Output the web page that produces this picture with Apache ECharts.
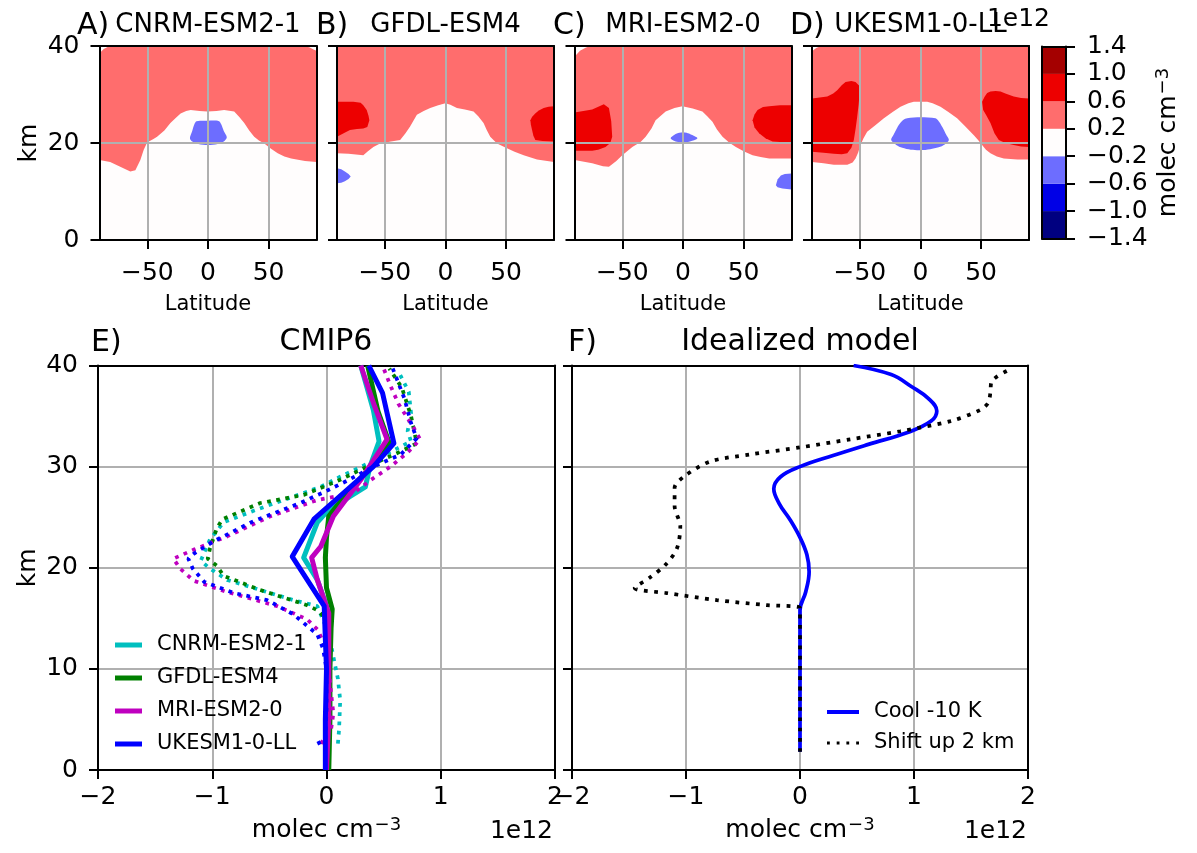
<!DOCTYPE html>
<html><head><meta charset="utf-8">
<script src="https://cdn.jsdelivr.net/npm/echarts@6/dist/echarts.min.js"></script>
<style>html,body{margin:0;padding:0;background:#fff}#c{width:1197px;height:853px}</style>
</head><body><div id="c"></div>
<script>
// ---------------- DATA ----------------
// colour-bar levels (x1e12 molec cm^-3) and fill colours of each band
const cbBounds = [-1.4, -1.0, -0.6, -0.2, 0.2, 0.6, 1.0, 1.4];
const cbColors = ['#000080', '#0000e6', '#6d6dff', '#fffdfd', '#ff6d6d', '#ed0000', '#a40000'];
const latTicks = [-50, 0, 50];
const panelNames = ['CNRM-ESM2-1', 'GFDL-ESM4', 'MRI-ESM2-0', 'UKESM1-0-LL'];
const panelLetters = ['A)', 'B)', 'C)', 'D)'];

// contour boundaries [latitude, altitude km]
// Panel A (CNRM-ESM2-1)
const aRedTop = [[-89.5,38.5],[-86,39.4],[-82,39.9],[-75,40],[79.6,40],[84,39.7],[87,39.3],[89.5,39]];
const aRedLower = [[-89.5,16.5],[-80.7,16.1],[-72.4,15.1],[-64.1,14.1],[-59.9,14.4],[-55.8,16.5],[-53,18.6],[-50.2,20.1],[-45,20.8],[-42,21.3],[-36,22.6],[-31,24.1],[-26,25.3],[-22.6,26.1],[-18,26.6],[-14.3,26.8],[-7,26.6],[-0.5,26.5],[7,26.6],[13.3,26.8],[21.6,26.5],[26,25.3],[29.9,24.1],[34,22.6],[38.1,21.3],[42,20.5],[46.4,19.9],[52,18.8],[57.5,17.9],[63,17.2],[68.6,16.8],[80,16.3],[89.5,16.1]];
const aBlue = [[-14.9,21],[-13,22.5],[-11,24],[-9.4,24.5],[0,24.6],[9.1,24.5],[11,23.8],[13,22.5],[15.5,21.2],[13,20.3],[8,19.8],[0,19.6],[-8,19.8],[-13,20.3]];
// Panel B (GFDL-ESM4)
const bRedTop = [[-89.5,40],[89.5,40]];
const bRedLower = [[-89.5,17.9],[-80,17.8],[-67.8,17.5],[-64,18.3],[-59.5,19.2],[-54,19.9],[-45,20.3],[-37.4,20.6],[-33,22],[-29.2,23.4],[-23.6,25.8],[-18,26.6],[-12.6,27.2],[-6,27.8],[0,28.2],[4,27.9],[9.4,27.2],[16,26.9],[23.1,26.5],[27,25.5],[31.4,24.1],[34,22.7],[36.9,21.3],[42.5,19.9],[50.7,18.9],[57,18.2],[64.5,17.5],[75.5,16.6],[89.5,16.1]];
const bDarkL = [[-89.5,28.5],[-76,28.5],[-70,28.3],[-67.8,27.8],[-65,26.8],[-63.5,25.6],[-62.8,24.7],[-64.5,23.3],[-67.8,23],[-73,22.9],[-78.8,22.7],[-84,22],[-89.5,21.3]];
const bDarkR = [[70,24.7],[71.5,25.4],[74,26.1],[77,26.7],[81,27.2],[85,27.5],[89.5,27.6],[89.5,20.3],[80,20.4],[74.1,20.6],[72.5,21.5],[71.4,22.7],[70.4,23.8]];
const bBlueL = [[-89.5,14.8],[-86,14.6],[-83,14.1],[-80,13.6],[-78.2,13.1],[-80,12.6],[-83,12.1],[-86,11.8],[-89.5,11.7]];
// Panel C (MRI-ESM2-0)
const cRedTop = [[-89.5,37.8],[-85,39],[-80,39.7],[-76,40],[89.5,40]];
const cRedLower = [[-89.5,16.5],[-74.9,15.8],[-66,15.2],[-61.1,15.1],[-55,16.3],[-50.1,17.5],[-41.8,19.2],[-35,20.2],[-30.8,21.3],[-26,23],[-22.6,24.7],[-14.3,26.5],[-7,27.2],[-0.5,27.6],[8,27.1],[16,26.5],[20,25.5],[24.3,24.4],[28,22.8],[32.6,21.3],[38,20.1],[43.6,19.2],[50,18.3],[57.4,17.5],[64,17.1],[71.1,16.8],[89.5,16.8]];
const cDarkL = [[-89.5,26.3],[-74.9,26.9],[-65.3,28],[-61.1,27.2],[-59.2,24.5],[-58.4,21.3],[-60,20],[-63.9,19.2],[-70,18.6],[-74.9,18.4],[-89.5,18.4]];
const cDarkR = [[57.4,24.7],[59,25.9],[61.5,26.8],[66,27.4],[71.1,27.6],[80,27.8],[89.5,27.8],[89.5,20.1],[80,20.2],[73.9,20.3],[68,21],[62.8,22],[59,23.2]];
const cBlueC = [[-10.2,21],[-7,21.7],[-3,22.1],[0,22.2],[3,22.1],[7,21.7],[11.9,21],[7,20.4],[3,20.15],[0,20.1],[-3,20.15],[-7,20.4]];
const cBlueR = [[89.5,13.7],[84,13.6],[80.7,13.3],[78,12.5],[76.6,11.3],[78,10.9],[82,10.6],[89.5,10.4]];
// Panel D (UKESM1-0-LL)
const dRedTop = [[-89.5,38.9],[-86,39.6],[-83,39.9],[-80,40],[89.5,40]];
const dRedLower = [[-89.5,16.1],[-80,15.8],[-71.5,15.5],[-60.4,15.5],[-56,16],[-53.6,16.8],[-51.5,18],[-49.5,19.6],[-47,21],[-44,22.3],[-37,23.7],[-30.2,25.1],[-23,26.4],[-16.5,27.5],[-10,28.2],[-5.5,28.5],[5.5,28.5],[10,28.2],[16.5,27.5],[23,26.4],[30.2,25.1],[37,23.4],[44,21.6],[47.5,20.6],[50.8,19.6],[54,18.6],[57.7,17.9],[63,17.2],[68.7,16.8],[80,16.6],[89.5,16.6]];
const dDarkL = [[-89.5,29.2],[-76.9,29.6],[-72,30.2],[-68.7,30.9],[-65,31.9],[-61.8,32.6],[-57,32.8],[-53.6,32.6],[-50.5,31.8],[-50,31],[-51,28],[-52.2,25.4],[-53.5,23],[-55,20.6],[-57,19],[-60.4,17.9],[-65,17.7],[-71.5,17.8],[-80,18],[-89.5,18.2]];
const dDarkR = [[50.8,28.5],[53,29.6],[55,30.3],[57.7,30.6],[62,30.7],[66,30.6],[70,30.2],[76.9,29.6],[83,29.3],[89.5,29.2],[89.5,19.2],[83,19.3],[76.9,19.6],[70,20],[64.6,20.6],[61,22],[57.7,24.1],[54,25.8],[51.7,26.8]];
const dBlue = [[-24.2,20.6],[-22,21.8],[-20,22.8],[-17,24],[-14,24.8],[-11,25.1],[0,25.3],[12.4,25.1],[15,24.5],[18,23.3],[21,21.8],[23.4,20.6],[20,19.7],[15,19.1],[8,18.7],[0,18.5],[-8,18.6],[-15,19],[-20,19.6]];

// Panel E profiles [value x1e12 molec cm^-3, altitude km]
const eModels = ['CNRM-ESM2-1', 'GFDL-ESM4', 'MRI-ESM2-0', 'UKESM1-0-LL'];
const cnrmSolid = [[0.01,0],[0.02,5],[0.02,10],[0.0,15],[0.0,16.2],[-0.08,18.8],[-0.2,21.0],[-0.08,24.5],[0.0,25.5],[0.2,27],[0.34,28],[0.38,30],[0.46,32.5],[0.41,35.6],[0.3,40]];
const gfdlSolid = [[0.02,0],[0.03,5],[0.03,10],[0.04,14],[0.05,15.9],[0.0,18],[-0.01,21],[0.0,23],[0.02,25.1],[0.18,27.4],[0.35,29.5],[0.55,32.3],[0.45,35.5],[0.36,40]];
const mriSolid = [[0.0,0],[0.02,5],[0.02,10],[0.02,15.5],[-0.08,18.8],[-0.13,21],[-0.05,22.1],[0.06,25.1],[0.3,28.7],[0.53,32.7],[0.42,36],[0.3,40]];
const ukSolid = [[-0.01,0],[-0.01,5],[0.0,10],[-0.01,12.9],[-0.02,16.2],[-0.3,21.1],[-0.11,24.8],[0.18,27.7],[0.41,30],[0.59,32.3],[0.49,37.3],[0.37,40]];
const cnrmDot = [[0.1,2.6],[0.11,4],[0.12,6.9],[0.1,9],[0.06,11.2],[0.02,13.5],[-0.08,16.2],[-0.29,16.8],[-0.58,17.8],[-0.87,18.8],[-1.03,20.0],[-1.10,20.7],[-1.02,22.8],[-0.9,24.5],[-0.6,25.8],[-0.3,27],[-0.05,28],[0.12,29],[0.36,30.3],[0.62,31.8],[0.74,32.5],[0.71,33.5],[0.74,35.3],[0.72,37.4],[0.63,39.4]];
const gfdlDot = [[0.02,2.6],[0.02,6.9],[0.01,11],[0.0,14.9],[-0.08,15.8],[-0.17,16.3],[-0.58,17.8],[-0.9,19.2],[-0.96,20.2],[-1.04,20.9],[-1.02,21.9],[-0.96,23.9],[-0.91,24.8],[-0.58,26.4],[-0.2,27.2],[0.12,28.7],[0.30,29.7],[0.65,31.5],[0.79,32.3],[0.74,35],[0.66,37.8],[0.55,39.7]];
const mriDot = [[-0.05,2.6],[0.04,4],[0.06,5.6],[0.04,7.6],[0.02,10],[0.0,12],[-0.08,13.9],[-0.17,14.9],[-0.43,16.2],[-0.87,17.6],[-1.16,18.7],[-1.28,19.9],[-1.34,20.9],[-1.16,21.8],[-0.87,23.1],[-0.49,25.1],[-0.08,26.7],[0.24,27.4],[0.39,28.7],[0.56,30],[0.71,31.4],[0.82,32.7],[0.76,33.9],[0.63,36.2],[0.56,38],[0.49,40]];
const ukDot = [[-0.08,2.6],[-0.01,3],[0.0,6],[0.0,10],[-0.03,12],[-0.08,13.4],[-0.29,15.4],[-0.52,16.8],[-0.81,17.5],[-1.07,18.6],[-1.17,19.9],[-1.21,20.9],[-1.16,21.4],[-0.99,22.6],[-0.64,24.6],[-0.23,26.4],[0.0,27.6],[0.18,28.6],[0.41,30],[0.65,31.2],[0.79,32.8],[0.74,34.3],[0.68,36.8],[0.58,39.7]];

// Panel F idealized model
const fNames = ['Cool -10 K', 'Shift up 2 km'];
const coolProfile = [[0,1.8],[0,15.8],[0.05,17.6],[0.08,19.6],[0.06,21.3],[0.0,23],[-0.09,24.8],[-0.18,26.3],[-0.23,27.8],[-0.17,29.0],[0,30],[0.29,31.1],[0.6,32.2],[0.95,33.4],[1.15,34.5],[1.2,35.5],[1.13,36.7],[0.98,37.9],[0.8,39.1],[0.47,40]];
const shiftProfile = [[0,1.8],[0,16],[-0.29,16.3],[-0.73,16.8],[-1.17,17.5],[-1.45,18],[-1.32,19],[-1.18,20.3],[-1.08,21.9],[-1.05,24.1],[-1.10,26.1],[-1.10,27.9],[-1.02,29],[-0.79,30.5],[-0.44,31.2],[0,31.9],[0.44,32.7],[0.88,33.5],[1.32,34.5],[1.58,35.6],[1.65,36.3],[1.67,37.3],[1.68,38.4],[1.84,39.6]];

// ---------------- CHART ----------------
const FONT = 'DejaVu Sans';
const BLACK = '#000';
const GRIDC = '#b0b0b0';
const fmtMinus = v => (v < 0 ? '\u2212' + String(-v) : String(v));
const fmtCb = v => (v < 0 ? '\u2212' + (-v).toFixed(1) : v.toFixed(1));
const UNIT = 'molec cm{sup|\u22123}';
const unitRich = {sup: {fontSize: 18, fontFamily: FONT, color: BLACK, verticalAlign: 'bottom', padding: [0, 0, 11, 1]}};

const topLefts = [99.5, 337, 574.5, 812];
const grids = [];
topLefts.forEach(l => grids.push({left: l, top: 46, width: 217, height: 194, show: true, backgroundColor: cbColors[3], borderWidth: 0, containLabel: false}));
grids.push({left: 98, top: 365.5, width: 457, height: 404.5, containLabel: false});
grids.push({left: 572, top: 365.5, width: 456, height: 404.5, containLabel: false});
grids.push({left: 1042, top: 46.5, width: 24, height: 192, containLabel: false});

const xAxes = [], yAxes = [];
const lineS = {color: BLACK, width: 2};
function axisPair(g, o) {
  xAxes.push({
    gridIndex: g, type: 'value', position: 'bottom', min: o.xmin, max: o.xmax, interval: o.xint,
    z: o.z,
    axisLine: {show: true, onZero: false, lineStyle: lineS},
    axisTick: {show: o.xTick !== false, inside: false, length: 9, lineStyle: lineS, customValues: o.xCustom},
    axisLabel: {show: o.xLabel !== false, color: BLACK, fontFamily: FONT, fontSize: 25, margin: o.xMargin || 20, formatter: fmtMinus, customValues: o.xCustom, showMinLabel: true, showMaxLabel: true},
    splitLine: {show: o.split !== false, lineStyle: {color: GRIDC, width: 2}},
    name: o.xName || '', nameLocation: 'middle', nameGap: o.xNameGap || 30,
    nameTextStyle: {color: BLACK, fontFamily: FONT, fontSize: o.xNameSize || 25, rich: unitRich}
  });
  xAxes.push({
    gridIndex: g, type: 'value', position: 'top', min: o.xmin, max: o.xmax, z: o.z,
    axisLine: {show: true, onZero: false, lineStyle: lineS},
    axisTick: {show: false}, axisLabel: {show: false}, splitLine: {show: false}
  });
  yAxes.push({
    gridIndex: g, type: 'value', position: 'left', min: o.ymin, max: o.ymax, interval: o.yint, z: o.z,
    axisLine: {show: true, onZero: false, lineStyle: lineS},
    axisTick: {show: o.yTick !== false, inside: false, length: 9, lineStyle: lineS},
    axisLabel: {show: !!o.yLabel, color: BLACK, fontFamily: FONT, fontSize: 25, margin: 20, formatter: fmtMinus},
    splitLine: {show: o.split !== false, lineStyle: {color: GRIDC, width: 2}},
    name: o.yName || '', nameLocation: 'middle', nameGap: o.yNameGap || 58,
    nameTextStyle: {color: BLACK, fontFamily: FONT, fontSize: 25}
  });
  yAxes.push({
    gridIndex: g, type: 'value', position: 'right', min: o.ymin, max: o.ymax, z: o.z,
    axisLine: {show: true, onZero: false, lineStyle: lineS},
    axisTick: {show: !!o.rTick, inside: false, length: 9, lineStyle: lineS, customValues: o.rCustom},
    axisLabel: {show: !!o.rTick, color: BLACK, fontFamily: FONT, fontSize: 25, margin: 21, formatter: fmtCb, customValues: o.rCustom},
    splitLine: {show: false},
    name: o.rName || '', nameLocation: 'middle', nameGap: o.rNameGap || 80,
    nameTextStyle: {color: BLACK, fontFamily: FONT, fontSize: 25, rich: unitRich}
  });
}
for (let g = 0; g < 4; g++) {
  axisPair(g, {xmin: -89.5, xmax: 89.5, xCustom: latTicks, ymin: 0, ymax: 40, yint: 20, z: 10,
    yLabel: g === 0, yName: g === 0 ? 'km' : '', yNameGap: 58,
    xName: 'Latitude', xNameGap: 54, xNameSize: 21, xMargin: 21});
}
axisPair(4, {xmin: -2, xmax: 2, xint: 1, ymin: 0, ymax: 40, yint: 10, z: 0, yLabel: true, yName: 'km', yNameGap: 57,
  xName: UNIT, xNameGap: 46, xMargin: 15});
axisPair(5, {xmin: -2, xmax: 2, xint: 1, ymin: 0, ymax: 40, yint: 10, z: 0, yLabel: false,
  xName: UNIT, xNameGap: 46, xMargin: 15});
axisPair(6, {xmin: 0, xmax: 1, xTick: false, xLabel: false, split: false, ymin: -1.4, ymax: 1.4, yTick: false, z: 10,
  rTick: true, rCustom: cbBounds, rName: UNIT, rNameGap: 88});

const series = [];
function polySeries(g, pts, color, smooth) {
  return {
    type: 'custom', coordinateSystem: 'cartesian2d', xAxisIndex: 2 * g, yAxisIndex: 2 * g,
    clip: true, silent: true, z: 2, data: pts, encode: {x: 0, y: 1},
    renderItem: function (params, api) {
      if (params.dataIndex !== 0) return null;
      return {type: 'polygon', shape: {points: pts.map(p => api.coord(p)), smooth: smooth || 0}, style: {fill: color}};
    }
  };
}
const closed = (top, lower) => top.concat(lower.slice().reverse());
const panelShapes = [
  [[closed(aRedTop, aRedLower), 4, 0], [aBlue, 2, 0.3]],
  [[closed(bRedTop, bRedLower), 4, 0], [bDarkL, 5, 0], [bDarkR, 5, 0], [bBlueL, 2, 0]],
  [[closed(cRedTop, cRedLower), 4, 0], [cDarkL, 5, 0], [cDarkR, 5, 0], [cBlueC, 2, 0.3], [cBlueR, 2, 0]],
  [[closed(dRedTop, dRedLower), 4, 0], [dDarkL, 5, 0], [dDarkR, 5, 0], [dBlue, 2, 0.3]]
];
panelShapes.forEach((shapes, g) => shapes.forEach(s => series.push(polySeries(g, s[0], cbColors[s[1]], s[2]))));

// colour bar bands
series.push({
  type: 'custom', coordinateSystem: 'cartesian2d', xAxisIndex: 12, yAxisIndex: 12, silent: true, z: 2,
  data: cbColors.map((c, i) => [0, cbBounds[i], cbBounds[i + 1], i]),
  encode: {x: 0, y: [1, 2]},
  renderItem: function (params, api) {
    const p1 = api.coord([0, api.value(2)]);
    const p2 = api.coord([1, api.value(1)]);
    return {type: 'rect', shape: {x: p1[0], y: p1[1], width: p2[0] - p1[0], height: p2[1] - p1[1]}, style: {fill: cbColors[api.value(3)]}};
  }
});

// Panel E lines
const eColors = ['#00bfbf', '#008000', '#bf00bf', '#0000ff'];
const eSolid = [cnrmSolid, gfdlSolid, mriSolid, ukSolid];
const eDotted = [cnrmDot, gfdlDot, mriDot, ukDot];
eModels.forEach((m, i) => {
  series.push({type: 'line', name: m, xAxisIndex: 8, yAxisIndex: 8, data: eSolid[i], showSymbol: false, symbol: 'none',
    lineStyle: {color: eColors[i], width: 5, join: 'round'}, itemStyle: {color: eColors[i]}, z: 3, silent: true});
  series.push({type: 'line', name: m + ' (dotted)', xAxisIndex: 8, yAxisIndex: 8, data: eDotted[i], showSymbol: false, symbol: 'none',
    lineStyle: {color: eColors[i], width: 3.75, type: [3.75, 5.5], cap: 'butt'}, itemStyle: {color: eColors[i]}, z: 3, silent: true});
});
// Panel F lines
series.push({type: 'line', name: fNames[0], xAxisIndex: 10, yAxisIndex: 10, data: coolProfile, showSymbol: false, symbol: 'none',
  smooth: 0.4, lineStyle: {color: '#0000ff', width: 3.75}, itemStyle: {color: '#0000ff'}, z: 3, silent: true});
series.push({type: 'line', name: fNames[1], xAxisIndex: 10, yAxisIndex: 10, data: shiftProfile, showSymbol: false, symbol: 'none',
  smooth: 0.3, lineStyle: {color: '#000', width: 3.75, type: [3.75, 6.5], cap: 'butt'}, itemStyle: {color: '#000'}, z: 3, silent: true});

const txt = (text, x, y, size, align, extra) => Object.assign({
  type: 'text', x: x, y: y, silent: true, z: 100,
  style: {text: text, fill: BLACK, fontSize: size, fontFamily: FONT, align: align || 'left', verticalAlign: 'middle'}
}, extra || {});

const graphic = [];
const letterX = [77, 316, 553, 790];
topLefts.forEach((l, i) => {
  graphic.push(txt(panelLetters[i], letterX[i], 26, 30, 'left'));
  graphic.push(txt(panelNames[i], l + 108.5, 25, 26, 'center'));
});
graphic.push(txt('1e12', 1050, 19, 25, 'right'));
graphic.push(txt('E)', 91, 343, 30, 'left'));
graphic.push(txt('CMIP6', 326, 342, 30, 'center'));
graphic.push(txt('F)', 568, 343, 30, 'left'));
graphic.push(txt('Idealized model', 800, 342, 30, 'center'));
graphic.push(txt('1e12', 553, 831, 25, 'right'));
graphic.push(txt('1e12', 1027, 831, 25, 'right'));

const legendText = {fontSize: 21, fontFamily: FONT, color: BLACK, lineHeight: 24, padding: [0, 0, 0, 10]};
const option = {
  animation: false,
  backgroundColor: '#fff',
  grid: grids, xAxis: xAxes, yAxis: yAxes, series: series, graphic: graphic,
  legend: [
    {data: eModels.map(n => ({name: n, icon: 'rect'})), orient: 'vertical', left: 110, top: 628,
     itemWidth: 27, itemHeight: 5, itemGap: 9, textStyle: legendText, selectedMode: false},
    {data: [{name: fNames[0], icon: 'rect'}, {name: fNames[1], icon: 'path://M0,0h3v3h-3zM10.3,0h3v3h-3zM20.6,0h3v3h-3zM31,0h3v3h-3z'}],
     orient: 'vertical', left: 822, top: 695, itemWidth: 32, itemHeight: 4, itemGap: 7, textStyle: legendText, selectedMode: false}
  ]
};
const chart = echarts.init(document.getElementById('c'), null, {renderer: 'canvas'});
chart.setOption(option);
</script></body></html>
